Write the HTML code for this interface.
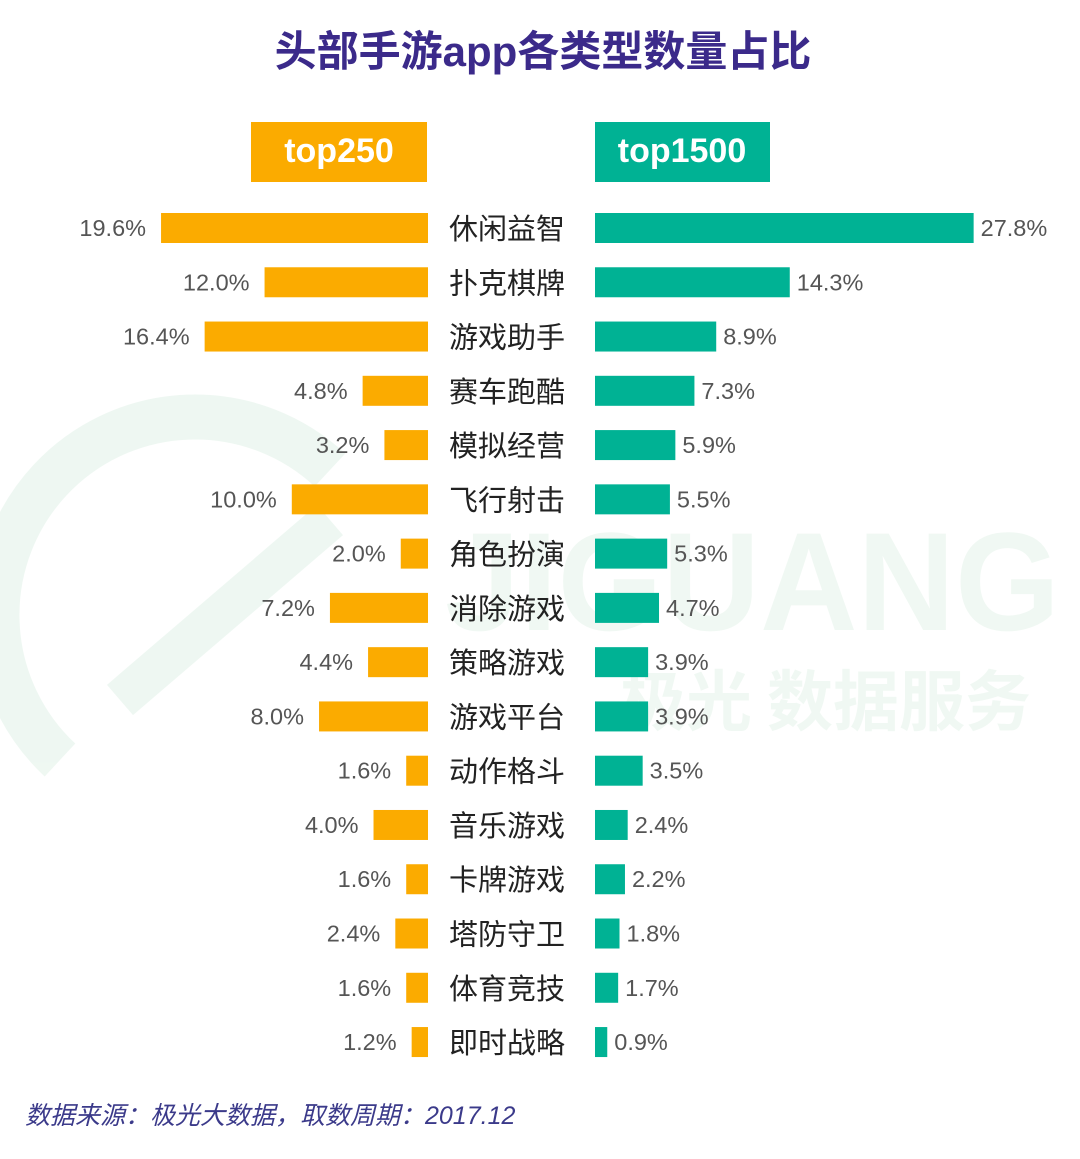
<!DOCTYPE html>
<html><head><meta charset="utf-8"><style>
body{margin:0;background:#fff;}
#c{position:relative;width:1080px;height:1159px;overflow:hidden;font-family:"Liberation Sans","Noto Sans CJK SC",sans-serif;}
</style></head><body>
<div id="c">
<svg id="s" width="1080" height="1159" xmlns="http://www.w3.org/2000/svg">
<g opacity="0.5">
<path d="M60 760 A170 170 0 0 1 330 470" fill="none" stroke="#dff1e6" stroke-width="45"/>
<path d="M120 700 L330 520" fill="none" stroke="#dff1e6" stroke-width="40"/>
<text x="445" y="630" font-size="140" font-weight="bold" fill="#e3f3e8" font-family="Liberation Sans" textLength="615" lengthAdjust="spacingAndGlyphs">JIGUANG</text>
<text x="620" y="725" font-size="66" font-weight="bold" fill="#e3f3e8" font-family="Noto Sans CJK SC">极光 数据服务</text>
</g>
<text x="543" y="66" text-anchor="middle" font-size="42" font-weight="bold" fill="#3b2a8a" font-family="Liberation Sans, Noto Sans CJK SC, sans-serif">头部手游app各类型数量占比</text>
<rect x="251" y="122" width="176" height="60" fill="#fbab00"/>
<text x="339" y="162" text-anchor="middle" font-size="34" font-weight="bold" fill="#fff">top250</text>
<rect x="595" y="122" width="175" height="60" fill="#00b294"/>
<text x="682" y="162" text-anchor="middle" font-size="34" font-weight="bold" fill="#fff">top1500</text>
<g id="bars"></g>
<text x="25" y="1124" font-size="25" font-style="italic" fill="#3b3a8a" font-family="Liberation Sans, Noto Sans CJK SC, sans-serif">数据来源：极光大数据，取数周期：2017.12</text>
</svg>
</div>
<script>
const categories=["休闲益智","扑克棋牌","游戏助手","赛车跑酷","模拟经营","飞行射击","角色扮演","消除游戏","策略游戏","游戏平台","动作格斗","音乐游戏","卡牌游戏","塔防守卫","体育竞技","即时战略"];
const top250=[19.6,12.0,16.4,4.8,3.2,10.0,2.0,7.2,4.4,8.0,1.6,4.0,1.6,2.4,1.6,1.2];
const top1500=[27.8,14.3,8.9,7.3,5.9,5.5,5.3,4.7,3.9,3.9,3.5,2.4,2.2,1.8,1.7,0.9];
const NS="http://www.w3.org/2000/svg";
const scale=v=>v*13.62;
const rowY=i=>228+i*54.27;
const g=document.getElementById('bars');
function mk(tag,attrs,txt){const e=document.createElementNS(NS,tag);for(const k in attrs)e.setAttribute(k,attrs[k]);if(txt!==undefined)e.textContent=txt;g.appendChild(e);return e;}
categories.forEach((c,i)=>{
const y=rowY(i);
const w1=scale(top250[i]);
const b1=mk('rect',{x:428-w1,y:y-15,width:w1,height:30,fill:'#fbab00'});


const t1=mk('text',{x:428-w1-15,y:y+8,'text-anchor':'end','font-size':23.5,fill:'#555'},top250[i].toFixed(1)+'%');


const w2=scale(top1500[i]);
const b2=mk('rect',{x:595,y:y-15,width:w2,height:30,fill:'#00b294'});


const t2=mk('text',{x:595+w2+7,y:y+8,'font-size':23.5,fill:'#555'},top1500[i].toFixed(1)+'%');


const cl=mk('text',{x:507,y:y+11,'text-anchor':'middle','font-size':29,fill:'#222','font-family':'Noto Sans CJK SC, sans-serif'},c);


});
</script>
</body></html>
